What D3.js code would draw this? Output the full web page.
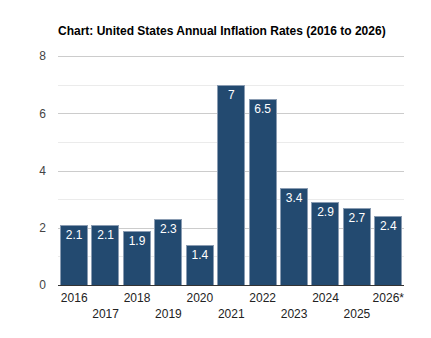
<!DOCTYPE html>
<html><head><meta charset="utf-8">
<script src="https://cdn.jsdelivr.net/npm/d3@7"></script>
<style>body{margin:0;background:#fff}svg{display:block;font-family:Arial,"Liberation Sans",sans-serif}</style>
</head><body><svg id="c" width="431" height="338"></svg>
<script>
const years = ["2016","2017","2018","2019","2020","2021","2022","2023","2024","2025","2026*"];
const rates = [2.1,2.1,1.9,2.3,1.4,7,6.5,3.4,2.9,2.7,2.4];
const majorTicks = [0,2,4,6,8];
const minorTicks = [1,3,5,7];
const title = "Chart: United States Annual Inflation Rates (2016 to 2026)";

const svg = d3.select("#c");
const x = d3.scaleBand().domain(years).range([58.5,404]).paddingInner(0.1).paddingOuter(0.05);
const y = d3.scaleLinear().domain([0,8]).range([285,56]);

svg.append("text").attr("x",58).attr("y",35).attr("font-size",12).attr("font-weight","bold").attr("fill","#000").text(title);

const g = svg.append("g");
g.selectAll(".minor").data(minorTicks).join("line")
 .attr("x1",58).attr("x2",404).attr("y1",d=>Math.round(y(d))+0.5).attr("y2",d=>Math.round(y(d))+0.5)
 .attr("stroke","#ebebeb");
g.selectAll(".major").data(majorTicks.filter(d=>d>0)).join("line")
 .attr("x1",58).attr("x2",404).attr("y1",d=>Math.round(y(d))+0.5).attr("y2",d=>Math.round(y(d))+0.5)
 .attr("stroke","#cccccc");

const yAxis = d3.axisLeft(y).tickValues(majorTicks).tickSize(0).tickPadding(0);
const ya = svg.append("g").attr("transform","translate(46,0)").call(yAxis);
ya.select(".domain").remove();
ya.selectAll("text").attr("font-size",12).attr("fill","#444").attr("font-family","Arial,'Liberation Sans',sans-serif");

svg.selectAll(".bar").data(rates).join("rect")
 .attr("x",(d,i)=>Math.round(x(years[i]))+0.5).attr("width",Math.round(x.bandwidth())-1)
 .attr("y",d=>Math.round(y(d))+0.5).attr("height",d=>Math.round(y(0))-Math.round(y(d)))
 .attr("fill","#234a70").attr("stroke","#8a9cb2").attr("stroke-width",1);

svg.selectAll(".val").data(rates).join("text")
 .attr("x",(d,i)=>x(years[i])+x.bandwidth()/2).attr("y",d=>y(d)+14)
 .attr("text-anchor","middle").attr("font-size",12).attr("fill","#fff").text(d=>d);

svg.append("line").attr("x1",58).attr("x2",404).attr("y1",285.5).attr("y2",285.5).attr("stroke","#333");

const xAxis = d3.axisBottom(x).tickSize(0).tickPadding(0);
const xa = svg.append("g").attr("transform","translate(0,285)").call(xAxis);
xa.select(".domain").remove();
xa.selectAll("text").attr("font-size",12).attr("fill","#222").attr("font-family","Arial,'Liberation Sans',sans-serif")
 .attr("dy",null).attr("y",(d,i)=>i%2===0?17:33);
</script></body></html>
